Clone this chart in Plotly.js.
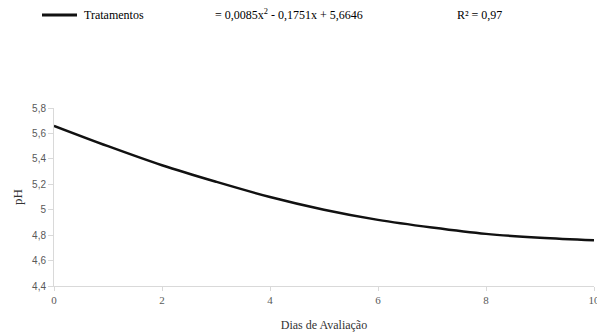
<!DOCTYPE html>
<html>
<head>
<meta charset="utf-8">
<script src="https://cdn.plot.ly/plotly-3.0.1.min.js"></script>
<style>
html,body{margin:0;padding:0;background:#fff;}
#chart{width:597px;height:335px;}
</style>
</head>
<body>
<div id="chart"></div>
<script>
// Values
const dias = [0, 1, 2, 3, 4, 5, 6, 7, 8, 9, 10];
const ph = [5.66, 5.50, 5.35, 5.22, 5.10, 5.00, 4.92, 4.86, 4.81, 4.78, 4.76];
const seriesName = "Tratamentos";
const equationText = "= 0,0085x<sup>2</sup> - 0,1751x + 5,6646";
const r2Text = "R² = 0,97";
const xTicks = [0, 2, 4, 6, 8, 10];
const yTicks = [4.4, 4.6, 4.8, 5, 5.2, 5.4, 5.6, 5.8];
const yTickText = ["4,4", "4,6", "4,8", "5", "5,2", "5,4", "5,6", "5,8"];

const W = 597, H = 335;
const L = 54, R = 3, T = 108, B = 49;
const PW = W - L - R, PH = H - T - B;
const serif = "Liberation Serif";
const px = v => (v - L) / PW;          // figure pixel -> paper x
const py = v => 1 + (T - v) / PH;      // figure pixel -> paper y

const lineColor = "#111111";

const trace = {
  x: dias, y: ph, name: seriesName, type: "scatter", mode: "lines",
  line: {color: lineColor, width: 2.5, shape: "spline", smoothing: 1},
  showlegend: false, hoverinfo: "skip"
};

const layout = {
  width: W, height: H,
  margin: {l: L, r: R, t: T, b: B, pad: 0, autoexpand: false},
  paper_bgcolor: "#ffffff", plot_bgcolor: "#ffffff",
  font: {family: serif, size: 12, color: "#000"},
  showlegend: false,
  xaxis: {
    range: [0, 10], tickvals: xTicks, ticktext: xTicks.map(String),
    showgrid: false, zeroline: false,
    showline: true, linecolor: "#d9d9d9", linewidth: 1,
    ticks: "outside", ticklen: 4, tickcolor: "#d9d9d9",
    ticklabeloverflow: "allow",
    tickfont: {family: serif, size: 11, color: "#595959"},
    title: {text: "Dias de Avaliação", font: {family: serif, size: 12, color: "#333"}, standoff: 15},
    automargin: false, fixedrange: true
  },
  yaxis: {
    range: [4.4, 5.8], tickvals: yTicks, ticktext: yTickText,
    showgrid: false, zeroline: false,
    showline: true, linecolor: "#d9d9d9", linewidth: 1,
    ticks: "outside", ticklen: 5, tickcolor: "#d9d9d9",
    tickfont: {family: "Liberation Sans", size: 10, color: "#595959"},
    title: {text: "pH", font: {family: serif, size: 13, color: "#333"}, standoff: 6},
    automargin: false, fixedrange: true
  },
  shapes: [
    {type: "line", xref: "paper", yref: "paper",
     x0: px(42), x1: px(77), y0: py(15), y1: py(15),
     line: {color: lineColor, width: 3}}
  ],
  annotations: [
    {xref: "paper", yref: "paper", x: px(82), y: py(15),
     xanchor: "left", yanchor: "middle", showarrow: false, text: seriesName,
     font: {family: serif, size: 12, color: "#000"}},
    {xref: "paper", yref: "paper", x: px(213), y: py(15),
     xanchor: "left", yanchor: "middle", showarrow: false, text: equationText,
     font: {family: serif, size: 12, color: "#000"}},
    {xref: "paper", yref: "paper", x: px(455), y: py(15),
     xanchor: "left", yanchor: "middle", showarrow: false, text: r2Text,
     font: {family: serif, size: 12, color: "#000"}}
  ]
};

Plotly.newPlot("chart", [trace], layout, {displayModeBar: false, staticPlot: true});
</script>
</body>
</html>
